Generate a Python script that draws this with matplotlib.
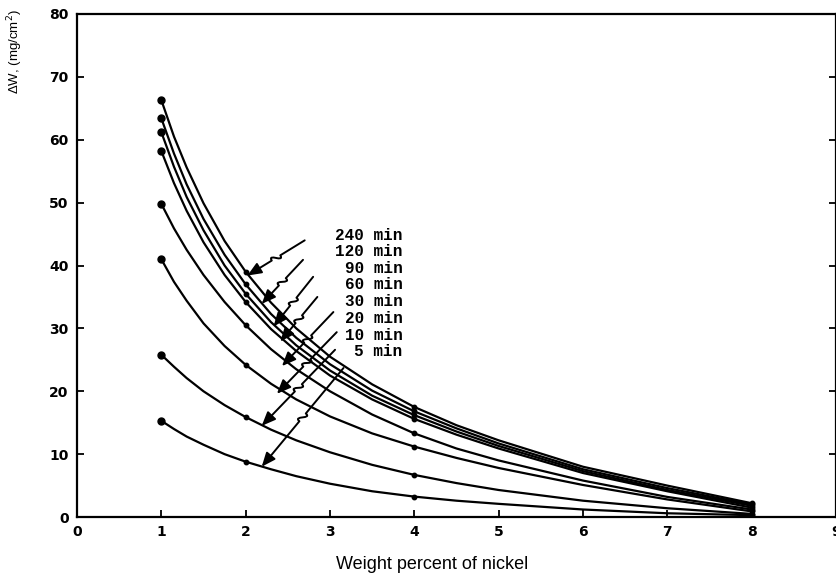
import matplotlib
matplotlib.use('Agg')
import matplotlib.pyplot as plt
from matplotlib.patches import FancyArrowPatch
from matplotlib.path import Path
import numpy as np

# weight percent of nickel
nickel = [1, 1.15, 1.3, 1.5, 1.75, 2, 2.3, 2.6, 3, 3.5, 4, 4.5, 5, 6, 7, 8]
measured_idx = [0, 5, 10, 15]   # points at 1, 2, 4, 8 wt% carry a dot

dw_240 = [66.3, 60.5, 55.6, 49.9, 43.9, 39.0, 34.1, 30.0, 25.5, 21.1, 17.5, 14.6, 12.2, 8.0, 5.0, 2.2]
dw_120 = [63.4, 57.8, 52.9, 47.4, 41.7, 37.0, 32.3, 28.5, 24.3, 20.1, 16.8, 14.1, 11.7, 7.6, 4.6, 2.0]
dw_90 = [61.2, 55.7, 50.9, 45.6, 40.0, 35.5, 31.0, 27.3, 23.3, 19.3, 16.2, 13.6, 11.3, 7.3, 4.3, 1.8]
dw_60 = [58.2, 53.1, 48.7, 43.7, 38.5, 34.2, 29.9, 26.4, 22.5, 18.7, 15.6, 13.1, 10.9, 7.0, 4.1, 1.5]
dw_30 = [49.8, 45.9, 42.5, 38.5, 34.2, 30.5, 26.7, 23.5, 20.0, 16.3, 13.3, 10.9, 9.0, 5.8, 3.2, 1.2]
dw_20 = [41.0, 37.4, 34.4, 30.8, 27.2, 24.2, 21.2, 18.7, 16.0, 13.3, 11.2, 9.4, 7.8, 5.1, 2.8, 0.9]
dw_10 = [25.8, 23.9, 22.1, 20.0, 17.8, 15.9, 13.9, 12.2, 10.3, 8.3, 6.7, 5.4, 4.3, 2.6, 1.4, 0.5]
dw_5 = [15.3, 14.0, 12.8, 11.5, 10.0, 8.8, 7.6, 6.5, 5.3, 4.1, 3.25, 2.6, 2.1, 1.2, 0.6, 0.3]

curves = [dw_240, dw_120, dw_90, dw_60, dw_30, dw_20, dw_10, dw_5]
times = ['240 min', '120 min', '90 min', '60 min', '30 min', '20 min', '10 min', '5 min']
label_y = [44.8, 42.3, 39.6, 36.9, 34.2, 31.6, 28.9, 26.4]

# leader arrows: tail near the label, head on the curve
tail_x = [2.70, 2.68, 2.80, 2.85, 3.04, 3.08, 3.06, 3.16]
tail_y = [44.0, 40.9, 38.2, 35.0, 32.6, 29.4, 26.6, 23.7]
head_x = [2.02, 2.19, 2.33, 2.41, 2.43, 2.37, 2.19, 2.19]
head_y = [38.4, 33.9, 30.3, 27.9, 24.0, 19.6, 14.5, 8.0]

fig = plt.figure(figsize=(8.37, 5.79), dpi=100)
ax = fig.add_axes([0.092, 0.107, 0.9068, 0.8689])

for dw in curves:
    ax.plot(nickel, dw, color='black', lw=1.6, solid_capstyle='round', solid_joinstyle='round')
    ax.plot(nickel[0], dw[0], 'o', color='black', ms=5)
    ax.plot([nickel[i] for i in measured_idx[1:]], [dw[i] for i in measured_idx[1:]],
            'o', color='black', ms=3.2)

ax.set_xlim(0, 9)
ax.set_ylim(0, 80)
ax.set_xticks(range(0, 10))
ax.set_yticks(range(0, 81, 10))
ax.tick_params(direction='in', length=5, width=1.3, top=False, right=True,
               labelsize=10, pad=6)
for lab in ax.get_xticklabels() + ax.get_yticklabels():
    lab.set_fontweight('bold')
for sp in ax.spines.values():
    sp.set_linewidth(1.6)

ax.set_xlabel('Weight percent of nickel', fontsize=13, family='Liberation Sans')
ax.xaxis.set_label_coords(0.468, -0.078)
ax.set_ylabel('ΔW, (mg/cm$^2$)', fontsize=9.5, family='Liberation Sans')
ax.yaxis.set_label_coords(-0.069, 0.925)

for t, yy in zip(times, label_y):
    ax.text(3.86, yy, t, ha='right', va='center', family='Liberation Mono',
            fontweight='bold', fontsize=11.5)

# leaders with a small S-shaped kink halfway
fig.canvas.draw()
to_disp = ax.transData
to_data = ax.transData.inverted()
for tx, ty, hx, hy in zip(tail_x, tail_y, head_x, head_y):
    T = to_disp.transform((tx, ty))
    H = to_disp.transform((hx, hy))
    d = H - T
    L = np.hypot(*d)
    u = d / L
    n = np.array([-u[1], u[0]])
    A = T + (0.5 * L - 5) * u
    B = T + (0.5 * L + 5) * u
    C1 = A + 9 * n
    C2 = B - 9 * n
    verts = to_data.transform(np.array([T, A, C1, C2, B, H]))
    codes = [Path.MOVETO, Path.LINETO, Path.CURVE4, Path.CURVE4, Path.CURVE4, Path.LINETO]
    arr = FancyArrowPatch(path=Path(verts, codes),
                          arrowstyle='-|>,head_length=0.6,head_width=0.25',
                          mutation_scale=14, color='black', lw=1.4)
    ax.add_patch(arr)

fig.savefig('out.png', dpi=100)
